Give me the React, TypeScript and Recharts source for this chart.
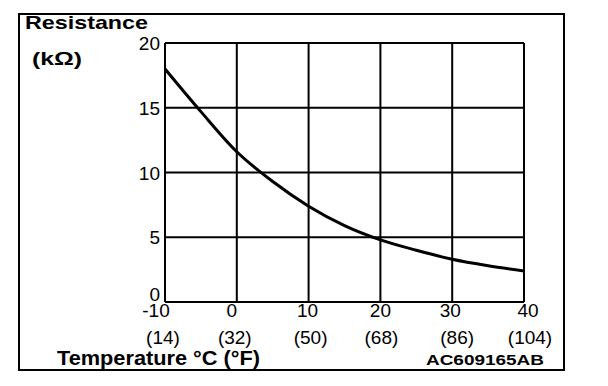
import React from 'react'
import {
  CartesianGrid,
  Customized,
  Line,
  LineChart,
  XAxis,
  YAxis,
} from 'recharts'

const temperatures = [-10, -5, 0, 5, 10, 15, 20, 25, 30, 35, 40]
const resistance = [18.0, 14.7, 11.6, 9.3, 7.4, 5.9, 4.8, 4.0, 3.3, 2.8, 2.4]
const celsiusTicks = [-10, 0, 10, 20, 30, 40]
const fahrenheitLabels = ['(14)', '(32)', '(50)', '(68)', '(86)', '(104)']
const resistanceTicks = [0, 5, 10, 15, 20]

// small hand nudges so the labels sit where the original drawing put them
const celsiusNudge = [-9, -5, -1, 0, -2, 4]
const fahrenheitNudge = [-2, -2, 2, 1, 5, 6]

const data = temperatures.map((t, i) => ({ t, r: resistance[i] }))

const FONT = '"Liberation Sans", Arial, Helvetica, sans-serif'

const XTick = props => {
  const { x, y, payload } = props
  const idx = celsiusTicks.indexOf(payload.value)
  return (
    <g>
      <text
        x={x + (celsiusNudge[idx] || 0)}
        y={y + 15}
        textAnchor="middle"
        fontSize={19}
        fontFamily={FONT}
        fill="#000"
      >
        {payload.value}
      </text>
      <text
        x={x + (fahrenheitNudge[idx] || 0)}
        y={y + 42}
        textAnchor="middle"
        fontSize={19}
        fontFamily={FONT}
        fill="#000"
      >
        {fahrenheitLabels[idx]}
      </text>
    </g>
  )
}

const YTick = props => {
  const { x, y, payload } = props
  // the zero label sits above the corner so it clears "-10"
  const dy = payload.value === 0 ? -8 : 0
  return (
    <text x={x} y={y + dy + 7} textAnchor="end" fontSize={19} fontFamily={FONT} fill="#000">
      {payload.value}
    </text>
  )
}

const Decorations = () => (
  <g fontFamily={FONT} fill="#000">
    <rect x={19} y={14} width={545} height={356} fill="none" stroke="#000" strokeWidth={2} />
    <text x={25} y={29} fontSize={19} fontWeight="bold" textLength={123} lengthAdjust="spacingAndGlyphs">
      Resistance
    </text>
    <text x={32} y={65} fontSize={19} fontWeight="bold" textLength={50} lengthAdjust="spacingAndGlyphs">
      (kΩ)
    </text>
    <text x={57} y={365} fontSize={20} fontWeight="bold" textLength={203} lengthAdjust="spacingAndGlyphs">
      Temperature °C (°F)
    </text>
    <text x={426} y={365} fontSize={14} fontWeight="bold" textLength={118} lengthAdjust="spacingAndGlyphs">
      AC609165AB
    </text>
  </g>
)

export default function App() {
  return (
    <div style={{ position: 'absolute', left: 0, top: 0, background: '#fff' }}>
      <LineChart
        width={608}
        height={386}
        data={data}
        margin={{ top: 43, right: 84, left: 0, bottom: 0 }}
      >
        <Customized component={Decorations} />
        <CartesianGrid stroke="#000" strokeWidth={2} />
        <XAxis
          dataKey="t"
          type="number"
          domain={[-10, 40]}
          ticks={celsiusTicks}
          height={84}
          tickSize={0}
          tickMargin={0}
          axisLine={{ stroke: '#000', strokeWidth: 2 }}
          tickLine={false}
          tick={<XTick />}
        />
        <YAxis
          type="number"
          domain={[0, 20]}
          ticks={resistanceTicks}
          width={165}
          tickSize={0}
          tickMargin={5}
          axisLine={{ stroke: '#000', strokeWidth: 2 }}
          tickLine={false}
          tick={<YTick />}
        />
        <Line
          dataKey="r"
          type="monotone"
          stroke="#000"
          strokeWidth={3}
          dot={false}
          isAnimationActive={false}
        />
      </LineChart>
    </div>
  )
}
